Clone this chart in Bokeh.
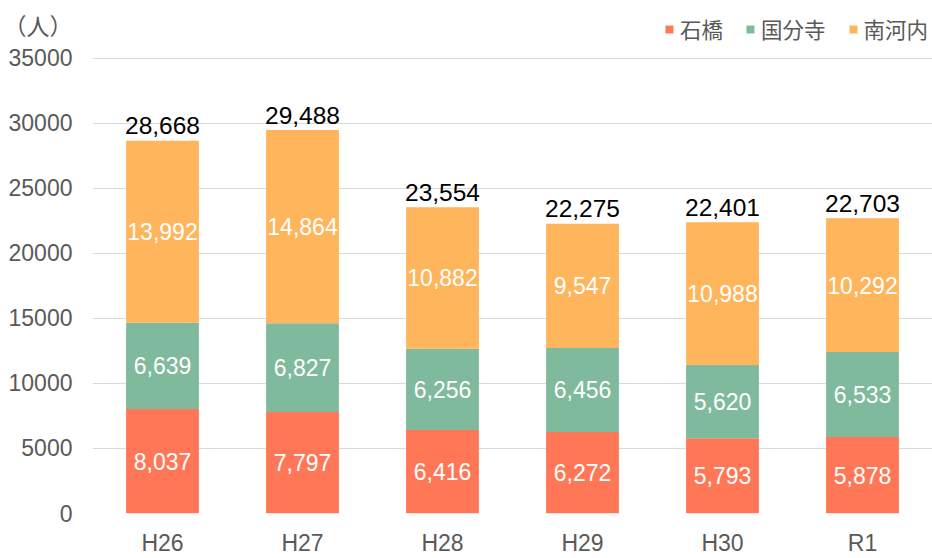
from bokeh.plotting import figure
from bokeh.models import ColumnDataSource, FixedTicker, Range1d
from bokeh.core.properties import value
from bokeh.embed import file_html
from bokeh.resources import INLINE

categories = ["H26", "H27", "H28", "H29", "H30", "R1"]
ishibashi = [8037, 7797, 6416, 6272, 5793, 5878]
kokubunji = [6639, 6827, 6256, 6456, 5620, 6533]
minamikawachi = [13992, 14864, 10882, 9547, 10988, 10292]
totals = [28668, 29488, 23554, 22275, 22401, 22703]
series_names = ["石橋", "国分寺", "南河内"]
colors = ["#FF7756", "#80BA9C", "#FFB55C"]
y_ticks = [0, 5000, 10000, 15000, 20000, 25000, 30000, 35000]
unit_text = "（人）"

series = [ishibashi, kokubunji, minamikawachi]
keys = ["s0", "s1", "s2"]
data = {"cat": categories}
for k, s in zip(keys, series):
    data[k] = s
src = ColumnDataSource(data)

TOP = 9
BOTTOM_AXIS = 44
H = 558
FH = H - TOP - BOTTOM_AXIS
y_max = 35000 * FH / (FH - 49)
p = figure(x_range=categories, y_range=Range1d(0, y_max),
           width=932, height=H,
           output_backend="svg", toolbar_location=None,
           min_border_left=91, min_border_right=0, min_border_top=TOP,
           min_border_bottom=BOTTOM_AXIS)
p.outline_line_color = None
p.background_fill_color = "white"
p.border_fill_color = "white"

p.vbar_stack(keys, x="cat", width=0.52, color=colors, line_color=None,
             source=src, legend_label=series_names)

# segment labels
bottom = [0] * len(categories)
for s in series:
    mids = [b + v / 2 for b, v in zip(bottom, s)]
    texts = [f"{v:,}" for v in s]
    lsrc = ColumnDataSource(dict(x=categories, y=mids, t=texts))
    p.text(x="x", y="y", text="t", source=lsrc, text_color="white",
           text_font=value("Liberation Sans"), text_font_size="23px",
           text_align="center", text_baseline="middle")
    bottom = [b + v for b, v in zip(bottom, s)]

tsrc = ColumnDataSource(dict(x=categories, y=totals, t=[f"{v:,}" for v in totals]))
p.text(x="x", y="y", text="t", source=tsrc, text_color="#000000",
       text_font=value("Liberation Sans"), text_font_size="24.5px",
       text_align="center", text_baseline="alphabetic", y_offset=-15)

# unit label shown as an extra y-axis label above the top tick
unit_pos = 35000 + 31 * (y_max / FH)
p.yaxis.ticker = FixedTicker(ticks=y_ticks + [unit_pos])
p.yaxis.major_label_overrides = {unit_pos: unit_text}
p.ygrid.ticker = FixedTicker(ticks=y_ticks)
p.ygrid.grid_line_color = "#D9D9D9"
p.ygrid.grid_line_width = 1
p.xgrid.grid_line_color = None

for ax in (p.xaxis[0], p.yaxis[0]):
    ax.axis_line_color = None
    ax.major_tick_line_color = None
    ax.minor_tick_line_color = None
    ax.major_tick_out = 0
    ax.major_tick_in = 0
    ax.minor_tick_out = 0
    ax.minor_tick_in = 0
    ax.major_label_text_font = "Liberation Sans, Noto Sans CJK JP"
    ax.major_label_text_font_size = "23px"
    ax.major_label_text_color = "#595959"
p.yaxis.major_label_standoff = 20
p.xaxis.major_label_standoff = 16

lg = p.legend[0]
lg.location = "top_right"
lg.orientation = "horizontal"
lg.border_line_color = None
lg.background_fill_alpha = 0
lg.padding = 0
lg.margin = 4
lg.spacing = 22
lg.glyph_width = 10
lg.glyph_height = 10
lg.label_standoff = 6
lg.label_text_font = "Noto Sans CJK JP"
lg.label_text_font_size = "21.5px"
lg.label_text_color = "#595959"

open("out.html", "w").write(file_html(p, INLINE))
